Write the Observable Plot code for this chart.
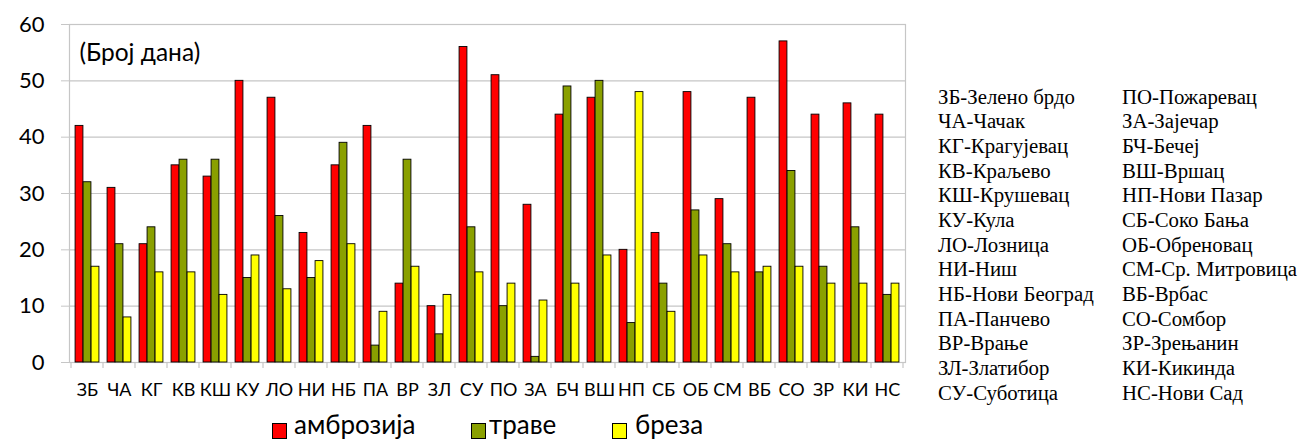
<!DOCTYPE html>
<html>
<head>
<meta charset="utf-8">
<script src="https://cdn.jsdelivr.net/npm/d3@7"></script>
<script src="https://cdn.jsdelivr.net/npm/@observablehq/plot@0.6"></script>
<style>
  html, body { margin: 0; padding: 0; background: #fff; }
  body { width: 1300px; height: 439px; position: relative; overflow: hidden; }
  #chart { position: absolute; left: 0; top: 0; }
  .legtxt { position: absolute; top: 411px; font-family: Lato, sans-serif; font-size: 26px; line-height: 26px; white-space: nowrap; color: #000; }
  .legsw { position: absolute; top: 423px; width: 13px; height: 14px; border: 1px solid #000; box-sizing: content-box; }
  .col { position: absolute; top: 84.6px; font-family: 'Liberation Serif', Tinos, 'Times New Roman'; font-size: 20.8px; line-height: 24.67px; white-space: nowrap; color: #000; }
</style>
</head>
<body>
<div id="chart"></div>
<script>
// ---- data ----
const stations = ["ЗБ","ЧА","КГ","КВ","КШ","КУ","ЛО","НИ","НБ","ПА","ВР","ЗЛ","СУ","ПО","ЗА","БЧ","ВШ","НП","СБ","ОБ","СМ","ВБ","СО","ЗР","КИ","НС"];
const ambrozija = [42,31,21,35,33,50,47,23,35,42,14,10,56,51,28,44,47,20,23,48,29,47,57,44,46,44];
const trave     = [32,21,24,36,36,15,26,15,39, 3,36, 5,24,10, 1,49,50, 7,14,27,21,16,34,17,24,12];
const breza     = [17, 8,16,16,12,19,13,18,21, 9,17,12,16,14,11,14,19,48, 9,19,16,17,17,14,14,14];
const seriesNames = ["амброзија","траве","бреза"];
const seriesColors = ["#ff0000","#8aa000","#ffff00"];
const yTicks = [0,10,20,30,40,50,60];
const unitLabel = "(Број дана)";
const namesCol1 = ["ЗБ-Зелено брдо","ЧА-Чачак","КГ-Крагујевац","КВ-Краљево","КШ-Крушевац","КУ-Кула","ЛО-Лозница","НИ-Ниш","НБ-Нови Београд","ПА-Панчево","ВР-Врање","ЗЛ-Златибор","СУ-Суботица"];
const namesCol2 = ["ПО-Пожаревац","ЗА-Зајечар","БЧ-Бечеј","ВШ-Вршац","НП-Нови Пазар","СБ-Соко Бања","ОБ-Обреновац","СМ-Ср. Митровица","ВБ-Врбас","СО-Сомбор","ЗР-Зрењанин","КИ-Кикинда","НС-Нови Сад"];

// ---- layout ----
const W = 920, H = 412, mL = 69, mR = 15, mT = 24, mB = 50;
const band = (W - mL - mR) / stations.length;
const barW = 8;
const gridColor = "#c6c6c6";

const seriesValues = [ambrozija, trave, breza];
const rows = stations.map((s, i) => ({station: s, v0: ambrozija[i], v1: trave[i], v2: breza[i]}));

function boundaryTicks(...args) {
  const scales = args.find(a => a && typeof a.x === "function" && typeof a.y === "function");
  const x = scales.x, y = scales.y;
  const y0 = y(0);
  const g = d3.create("svg:g").attr("stroke", gridColor).attr("stroke-width", 1.2);
  const edges = stations.map(s => x(s));
  edges.push(x(stations[stations.length - 1]) + x.bandwidth());
  for (const e of edges) {
    g.append("line").attr("x1", e).attr("x2", e).attr("y1", y0).attr("y2", y0 + 6);
  }
  return g.node();
}

const bars = seriesValues.map((vals, k) => Plot.barY(rows, {
  x: "station",
  y: "v" + k,
  fill: seriesColors[k],
  stroke: "#000",
  strokeWidth: 0.9,
  insetLeft: (band - barW) / 2,
  insetRight: (band - barW) / 2,
  dx: (k - 1) * barW
}));

const chart = Plot.plot({
  width: W,
  height: H,
  marginLeft: mL,
  marginRight: mR,
  marginTop: mT,
  marginBottom: mB,
  style: {fontFamily: "Lato, sans-serif", fontSize: "18px", background: "transparent", color: "#000"},
  x: {domain: stations, padding: 0, axis: null},
  y: {domain: [0, 60], axis: null},
  marks: [
    Plot.ruleY(yTicks.filter(v => v > 0), {stroke: gridColor, strokeWidth: 1.2}),
    Plot.frame({stroke: gridColor, strokeWidth: 1.2}),
    Plot.ruleY([0], {stroke: gridColor, strokeWidth: 1.2}),
    Plot.axisY(yTicks, {tickSize: 8, tickPadding: 17, fontSize: 22, stroke: gridColor, fill: "#000", label: null}),
    Plot.axisX({tickSize: 0, tickPadding: 21, fontSize: 18, fill: "#000", label: null}),
    boundaryTicks,
    ...bars,
    Plot.text([unitLabel], {frameAnchor: "top-left", textAnchor: "start", lineAnchor: "middle", dx: 10, dy: 29, fontSize: 24.5, fill: "#000"})
  ]
});
document.getElementById("chart").appendChild(chart);

// legend
const swLeft = [272, 471, 612];
const txtLeft = [294, 489, 635];
seriesNames.forEach((name, k) => {
  const sw = document.createElement("div");
  sw.className = "legsw";
  sw.style.left = swLeft[k] + "px";
  sw.style.background = seriesColors[k];
  document.body.appendChild(sw);
  const t = document.createElement("div");
  t.className = "legtxt";
  t.style.left = txtLeft[k] + "px";
  t.textContent = name;
  document.body.appendChild(t);
});

// station name list
[[namesCol1, 938], [namesCol2, 1122]].forEach(([names, left]) => {
  const d = document.createElement("div");
  d.className = "col";
  d.style.left = left + "px";
  d.innerHTML = names.join("<br>");
  document.body.appendChild(d);
});
</script>
</body>
</html>
